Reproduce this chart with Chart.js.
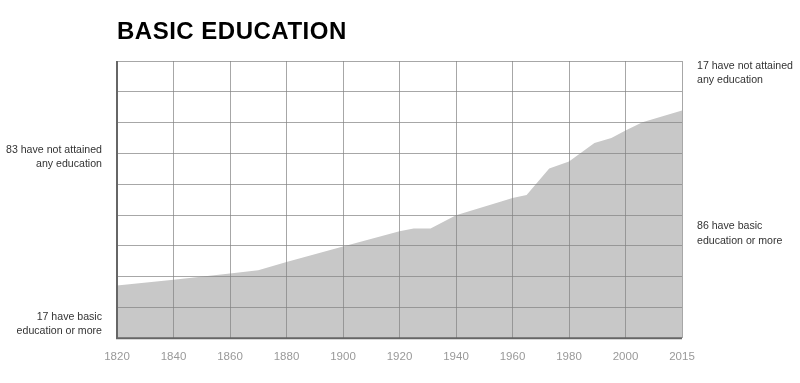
<!DOCTYPE html>
<html>
<head>
<meta charset="utf-8">
<script src="https://cdn.jsdelivr.net/npm/chart.js@4.4.1/dist/chart.umd.min.js"></script>
<style>
  html, body { margin: 0; padding: 0; background: #fff; }
  #wrap { width: 800px; height: 383px; position: relative; }
</style>
</head>
<body>
<div id="wrap"><canvas id="c" width="800" height="383"></canvas></div>
<script>
// Axis positions (years) of points as drawn on the chart's x scale
const years = [1820, 1840, 1860, 1870, 1880, 1900, 1920, 1925, 1931, 1940, 1956, 1960, 1965, 1973, 1980, 1989, 1995, 2000, 2006, 2020];
// Share with basic education (chart units, 0–90 scale)
const basicEducation = [17.1, 19.0, 21.0, 22.1, 24.7, 29.8, 34.7, 35.6, 35.6, 39.9, 44.4, 45.5, 46.5, 55.1, 57.4, 63.4, 65.0, 67.4, 70.1, 73.9];
// Tick positions and labels of the x axis
const tickYears = [1820, 1840, 1860, 1880, 1900, 1920, 1940, 1960, 1980, 2000, 2020];
const tickLabels = ['1820', '1840', '1860', '1880', '1900', '1920', '1940', '1960', '1980', '2000', '2015'];
const titleText = 'BASIC EDUCATION';
const leftNotes = [['83 have not attained', 'any education'], ['17 have basic', 'education or more']];
const rightNotes = [['17 have not attained', 'any education'], ['86 have basic', 'education or more']];

const FONT = '"Liberation Sans", Arial, Helvetica, sans-serif';

const notesPlugin = {
  id: 'notes',
  afterDraw(chart) {
    const ctx = chart.ctx;
    const a = chart.chartArea;
    ctx.save();
    // axis lines (left and bottom)
    ctx.strokeStyle = '#666';
    ctx.lineWidth = 2;
    ctx.beginPath();
    ctx.moveTo(a.left, a.top);
    ctx.lineTo(a.left, a.bottom);
    ctx.lineTo(a.right, a.bottom);
    ctx.stroke();

    ctx.fillStyle = '#000';
    ctx.font = 'bold 24px ' + FONT;
    if ('letterSpacing' in ctx) ctx.letterSpacing = '0.5px';
    ctx.textAlign = 'left';
    ctx.textBaseline = 'middle';
    ctx.fillText(titleText, a.left, 32);
    if ('letterSpacing' in ctx) ctx.letterSpacing = '0px';

    ctx.font = '10.6px ' + FONT;
    ctx.fillStyle = '#333';
    ctx.textAlign = 'right';
    const lx = a.left - 15;
    ctx.fillText(leftNotes[0][0], lx, 150);
    ctx.fillText(leftNotes[0][1], lx, 164);
    ctx.fillText(leftNotes[1][0], lx, 317);
    ctx.fillText(leftNotes[1][1], lx, 331);
    ctx.textAlign = 'left';
    const rx = a.right + 15;
    ctx.fillText(rightNotes[0][0], rx, 66);
    ctx.fillText(rightNotes[0][1], rx, 80);
    ctx.fillText(rightNotes[1][0], rx, 226);
    ctx.fillText(rightNotes[1][1], rx, 241);
    ctx.restore();
  }
};

new Chart(document.getElementById('c'), {
  type: 'line',
  data: {
    datasets: [{
      data: years.map((y, i) => ({ x: y, y: basicEducation[i] })),
      fill: 'origin',
      backgroundColor: 'rgba(200,200,200,1)',
      borderWidth: 0,
      borderColor: 'rgba(0,0,0,0)',
      pointRadius: 0,
      tension: 0
    }]
  },
  options: {
    responsive: false,
    animation: false,
    events: [],
    layout: { padding: { left: 117, right: 118, top: 61, bottom: 7 } },
    plugins: { legend: { display: false }, tooltip: { enabled: false } },
    scales: {
      x: {
        type: 'linear',
        min: 1820,
        max: 2020,
        afterBuildTicks(scale) { scale.ticks = tickYears.map(v => ({ value: v })); },
        ticks: {
          autoSkip: false,
          maxRotation: 0,
          padding: 12,
          color: '#999',
          font: { family: FONT, size: 11.5 },
          callback(v) { const i = tickYears.indexOf(v); return i >= 0 ? tickLabels[i] : ''; }
        },
        grid: { color: 'rgba(130,130,130,0.7)', lineWidth: 1, drawTicks: false, z: 1 },
        border: { display: false }
      },
      y: {
        min: 0,
        max: 90,
        ticks: { display: false, stepSize: 10 },
        grid: { color: 'rgba(130,130,130,0.7)', lineWidth: 1, drawTicks: false, z: 1 },
        border: { display: false }
      }
    }
  },
  plugins: [notesPlugin]
});
</script>
</body>
</html>
